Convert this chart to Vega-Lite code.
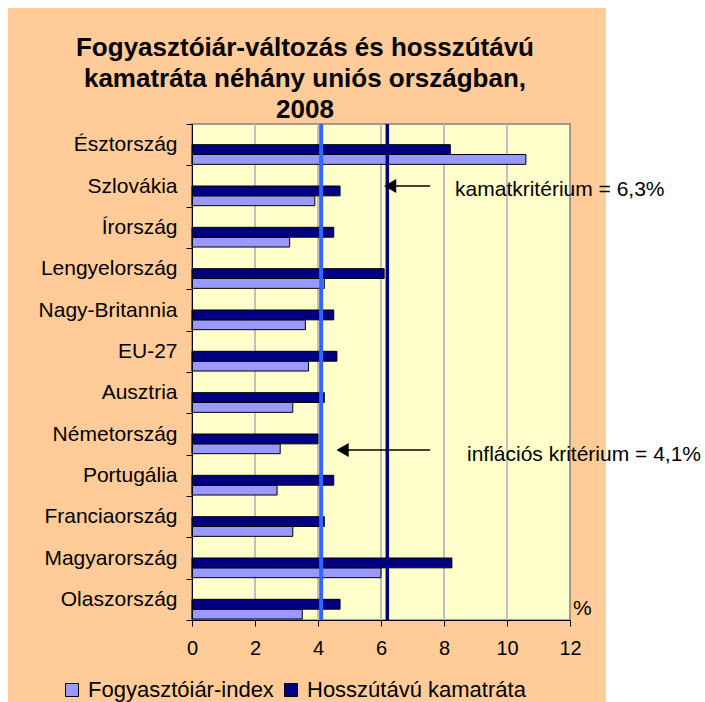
{
  "$schema": "https://vega.github.io/schema/vega-lite/v6.json",
  "width": 378,
  "height": 496,
  "autosize": {"type": "none"},
  "padding": {"left": 192, "top": 124, "right": 135, "bottom": 82},
  "background": "white",
  "title": {
    "text": ["Fogyasztóiár-változás és hosszútávú", "kamatráta néhány uniós országban,", "2008"],
    "font": "Liberation Sans",
    "fontSize": 26,
    "fontWeight": "bold",
    "lineHeight": 31,
    "anchor": "middle",
    "frame": "group",
    "baseline": "bottom",
    "dx": -76,
    "offset": -141,
    "color": "black",
    "zindex": 1
  },
  "datasets": {
    "bars": [
      {"country": "Észtország", "series": "Fogyasztóiár-index", "value": 10.6},
      {"country": "Észtország", "series": "Hosszútávú kamatráta", "value": 8.2},
      {"country": "Szlovákia", "series": "Fogyasztóiár-index", "value": 3.9},
      {"country": "Szlovákia", "series": "Hosszútávú kamatráta", "value": 4.7},
      {"country": "Írország", "series": "Fogyasztóiár-index", "value": 3.1},
      {"country": "Írország", "series": "Hosszútávú kamatráta", "value": 4.5},
      {"country": "Lengyelország", "series": "Fogyasztóiár-index", "value": 4.2},
      {"country": "Lengyelország", "series": "Hosszútávú kamatráta", "value": 6.1},
      {"country": "Nagy-Britannia", "series": "Fogyasztóiár-index", "value": 3.6},
      {"country": "Nagy-Britannia", "series": "Hosszútávú kamatráta", "value": 4.5},
      {"country": "EU-27", "series": "Fogyasztóiár-index", "value": 3.7},
      {"country": "EU-27", "series": "Hosszútávú kamatráta", "value": 4.6},
      {"country": "Ausztria", "series": "Fogyasztóiár-index", "value": 3.2},
      {"country": "Ausztria", "series": "Hosszútávú kamatráta", "value": 4.2},
      {"country": "Németország", "series": "Fogyasztóiár-index", "value": 2.8},
      {"country": "Németország", "series": "Hosszútávú kamatráta", "value": 4.0},
      {"country": "Portugália", "series": "Fogyasztóiár-index", "value": 2.7},
      {"country": "Portugália", "series": "Hosszútávú kamatráta", "value": 4.5},
      {"country": "Franciaország", "series": "Fogyasztóiár-index", "value": 3.2},
      {"country": "Franciaország", "series": "Hosszútávú kamatráta", "value": 4.2},
      {"country": "Magyarország", "series": "Fogyasztóiár-index", "value": 6.0},
      {"country": "Magyarország", "series": "Hosszútávú kamatráta", "value": 8.25},
      {"country": "Olaszország", "series": "Fogyasztóiár-index", "value": 3.5},
      {"country": "Olaszország", "series": "Hosszútávú kamatráta", "value": 4.7}
    ]
  },
  "layer": [
    {
      "data": {"values": [{"x0": -5.84, "x1": 13.14, "c0": "Észtország", "c1": "Olaszország"}]},
      "mark": {"type": "rect", "color": "#FFCC99"},
      "encoding": {
        "x": {"field": "x0", "type": "quantitative", "title": null},
        "x2": {"field": "x1"},
        "y": {"field": "c0", "type": "nominal", "bandPosition": -2.806, "title": null,
              "scale": {"domain": ["Észtország", "Szlovákia", "Írország", "Lengyelország", "Nagy-Britannia", "EU-27", "Ausztria", "Németország", "Portugália", "Franciaország", "Magyarország", "Olaszország"], "paddingInner": 0, "paddingOuter": 0}},
        "y2": {"field": "c1", "bandPosition": 2.984}
      }
    },
    {
      "data": {"values": [{"x0": 0, "x1": 12}]},
      "mark": {"type": "rect", "fill": "#FFFFCC", "stroke": "#808080", "strokeWidth": 1.5},
      "encoding": {
        "x": {"field": "x0", "type": "quantitative", "title": null},
        "x2": {"field": "x1"}
      }
    },
    {
      "data": {"values": [{"g": 2}, {"g": 4}, {"g": 6}, {"g": 8}, {"g": 10}]},
      "mark": {"type": "rule", "color": "#C0C0C0", "strokeWidth": 2},
      "encoding": {
        "x": {"field": "g", "type": "quantitative", "title": null}
      }
    },
    {
      "data": {"name": "bars"},
      "mark": {"type": "bar", "stroke": "black", "strokeWidth": 1},
      "encoding": {
        "y": {"field": "country", "type": "nominal", "title": null,
              "scale": {"domain": ["Észtország", "Szlovákia", "Írország", "Lengyelország", "Nagy-Britannia", "EU-27", "Ausztria", "Németország", "Portugália", "Franciaország", "Magyarország", "Olaszország"], "paddingInner": 0, "paddingOuter": 0},
              "axis": {"title": null, "tickBand": "extent", "zindex": 2, "grid": false, "domainColor": "black", "tickColor": "black", "tickSize": 6, "labelColor": "black", "labelFontSize": 21, "labelFont": "Liberation Sans", "labelPadding": 9, "labelLimit": 0}},
        "x": {"field": "value", "type": "quantitative", "title": null,
              "scale": {"domain": [0, 12], "nice": false, "zero": true},
              "axis": {"title": null, "values": [0, 2, 4, 6, 8, 10, 12], "zindex": 2, "grid": false, "domainColor": "black", "tickColor": "black", "tickSize": 6, "labelColor": "black", "labelFontSize": 20, "labelFont": "Liberation Sans", "labelPadding": 12, "labelFlush": false}},
        "yOffset": {"field": "series", "type": "nominal",
                    "scale": {"domain": ["p1", "p2", "Hosszútávú kamatráta", "Fogyasztóiár-index"], "paddingInner": 0, "paddingOuter": 0.1}},
        "color": {"field": "series", "type": "nominal",
                  "scale": {"domain": ["Fogyasztóiár-index", "Hosszútávú kamatráta"], "range": ["#9999FF", "#000080"]},
                  "legend": {"orient": "none", "legendX": -131, "legendY": 555, "direction": "horizontal", "title": null,
                             "symbolType": "square", "symbolSize": 169, "symbolStrokeColor": "black", "symbolStrokeWidth": 1,
                             "labelFontSize": 22, "labelFont": "Liberation Sans", "labelColor": "black", "labelLimit": 0,
                             "columnPadding": 6, "labelOffset": 5, "zindex": 2}}
      }
    },
    {
      "data": {"values": [{"k": 4.1}]},
      "mark": {"type": "rule", "color": "#3366FF", "strokeWidth": 4},
      "encoding": {"x": {"field": "k", "type": "quantitative", "title": null}}
    },
    {
      "data": {"values": [{"k": 6.2}]},
      "mark": {"type": "rule", "color": "#000080", "strokeWidth": 3.5},
      "encoding": {"x": {"field": "k", "type": "quantitative", "title": null}}
    },
    {
      "data": {"values": [{"country": "Szlovákia", "a": 7.56, "b": 6.3}]},
      "mark": {"type": "rule", "color": "black", "strokeWidth": 1.5},
      "encoding": {
        "x": {"field": "a", "type": "quantitative", "title": null},
        "x2": {"field": "b"},
        "y": {"field": "country", "type": "nominal", "bandPosition": 0.5, "title": null}
      }
    },
    {
      "data": {"values": [{"country": "Szlovákia", "tip": 6.29}]},
      "mark": {"type": "point", "shape": "triangle-left", "filled": true, "color": "black", "size": 200, "opacity": 1},
      "encoding": {
        "x": {"field": "tip", "type": "quantitative", "title": null},
        "y": {"field": "country", "type": "nominal", "bandPosition": 0.5, "title": null}
      }
    },
    {
      "data": {"values": [{"country": "Németország", "a": 7.56, "b": 4.8}]},
      "mark": {"type": "rule", "color": "black", "strokeWidth": 1.5},
      "encoding": {
        "x": {"field": "a", "type": "quantitative", "title": null},
        "x2": {"field": "b"},
        "y": {"field": "country", "type": "nominal", "bandPosition": 0.887, "title": null}
      }
    },
    {
      "data": {"values": [{"country": "Németország", "tip": 4.78}]},
      "mark": {"type": "point", "shape": "triangle-left", "filled": true, "color": "black", "size": 200, "opacity": 1},
      "encoding": {
        "x": {"field": "tip", "type": "quantitative", "title": null},
        "y": {"field": "country", "type": "nominal", "bandPosition": 0.887, "title": null}
      }
    },
    {
      "data": {"values": [{"country": "Szlovákia", "tx": 8.35, "label": "kamatkritérium = 6,3%"}]},
      "mark": {"type": "text", "align": "left", "baseline": "middle", "fontSize": 21, "font": "Liberation Sans", "color": "black"},
      "encoding": {
        "x": {"field": "tx", "type": "quantitative", "title": null},
        "y": {"field": "country", "type": "nominal", "bandPosition": 0.6, "title": null},
        "text": {"field": "label"}
      }
    },
    {
      "data": {"values": [{"country": "Németország", "tx": 8.73, "label": "inflációs kritérium = 4,1%"}]},
      "mark": {"type": "text", "align": "left", "baseline": "middle", "fontSize": 21, "font": "Liberation Sans", "color": "black"},
      "encoding": {
        "x": {"field": "tx", "type": "quantitative", "title": null},
        "y": {"field": "country", "type": "nominal", "bandPosition": 1.0, "title": null},
        "text": {"field": "label"}
      }
    },
    {
      "data": {"values": [{"country": "Olaszország", "tx": 12, "label": "%"}]},
      "mark": {"type": "text", "align": "left", "baseline": "middle", "dx": 3, "fontSize": 21, "font": "Liberation Sans", "color": "black"},
      "encoding": {
        "x": {"field": "tx", "type": "quantitative", "title": null},
        "y": {"field": "country", "type": "nominal", "bandPosition": 0.73, "title": null},
        "text": {"field": "label"}
      }
    }
  ],
  "config": {
    "font": "Liberation Sans",
    "view": {"stroke": null}
  }
}
